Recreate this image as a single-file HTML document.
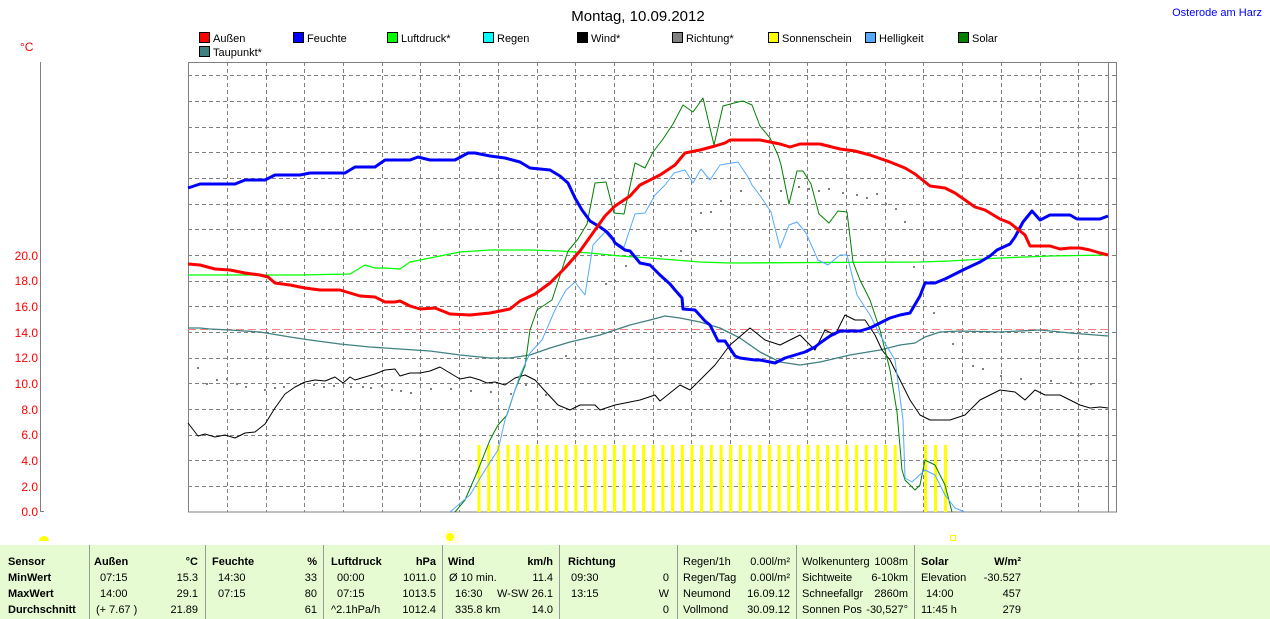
<!DOCTYPE html>
<html><head><meta charset="utf-8"><style>
body{margin:0;width:1270px;height:619px;background:#fff;overflow:hidden;font-family:"Liberation Sans",sans-serif;}
svg{position:absolute;left:0;top:0}
.t{position:absolute;background:#e6fbd2;left:0;top:545px;width:1270px;height:74px}
.c{position:absolute;font-size:11px;white-space:nowrap;color:#000}
.b{font-weight:bold}
.sep{position:absolute;top:0;width:1px;height:74px;background:#999}
</style></head><body>
<svg width="1270" height="545" font-family="Liberation Sans, sans-serif">
<text x="638" y="21" font-size="15" text-anchor="middle">Montag, 10.09.2012</text>
<text x="1262" y="16" font-size="11" fill="#0000ff" text-anchor="end">Osterode am Harz</text>
<text x="20" y="51" font-size="12" fill="#ff0000">°C</text>
<g font-size="11">
<rect x="199.5" y="32.5" width="10" height="10" fill="#ff0000" stroke="#000"/><text x="213" y="42">Außen</text>
<rect x="293.5" y="32.5" width="10" height="10" fill="#0000ff" stroke="#000"/><text x="307" y="42">Feuchte</text>
<rect x="387.5" y="32.5" width="10" height="10" fill="#00ff00" stroke="#000"/><text x="401" y="42">Luftdruck*</text>
<rect x="483.5" y="32.5" width="10" height="10" fill="#00ffff" stroke="#000"/><text x="497" y="42">Regen</text>
<rect x="577.5" y="32.5" width="10" height="10" fill="#000" stroke="#000"/><text x="591" y="42">Wind*</text>
<rect x="672.5" y="32.5" width="10" height="10" fill="#808080" stroke="#000"/><text x="686" y="42">Richtung*</text>
<rect x="768.5" y="32.5" width="10" height="10" fill="#ffff00" stroke="#000"/><text x="782" y="42">Sonnenschein</text>
<rect x="865.5" y="32.5" width="10" height="10" fill="#55aaff" stroke="#000"/><text x="879" y="42">Helligkeit</text>
<rect x="958.5" y="32.5" width="10" height="10" fill="#008000" stroke="#000"/><text x="972" y="42">Solar</text>
<rect x="199.5" y="46.5" width="10" height="10" fill="#408080" stroke="#000"/><text x="213" y="56">Taupunkt*</text>
</g>
<line x1="40.5" y1="62" x2="40.5" y2="512" stroke="#808080"/>
<line x1="40" y1="511.5" x2="44" y2="511.5" stroke="#808080"/>
<g font-size="12" fill="#ff0000" text-anchor="end">
<text x="38" y="260">20.0</text><text x="38" y="285">18.0</text><text x="38" y="311">16.0</text><text x="38" y="337">14.0</text><text x="38" y="362">12.0</text><text x="38" y="388">10.0</text><text x="38" y="414">8.0</text><text x="38" y="439">6.0</text><text x="38" y="465">4.0</text><text x="38" y="491">2.0</text><text x="38" y="516">0.0</text>
</g>
<g stroke="#808080" stroke-dasharray="4 3" stroke-width="1">
<path d="M188 75.5H1117M188 101.5H1117M188 127.5H1117M188 152.5H1117M188 178.5H1117M188 204.5H1117M188 229.5H1117M188 255.5H1117M188 281.5H1117M188 306.5H1117M188 332.5H1117M188 358.5H1117M188 383.5H1117M188 409.5H1117M188 435.5H1117M188 460.5H1117M188 486.5H1117"/>
<path d="M227.5 62V512M266.5 62V512M304.5 62V512M343.5 62V512M382.5 62V512M420.5 62V512M459.5 62V512M498.5 62V512M537.5 62V512M575.5 62V512M614.5 62V512M653.5 62V512M691.5 62V512M730.5 62V512M769.5 62V512M807.5 62V512M846.5 62V512M885.5 62V512M923.5 62V512M962.5 62V512M1001.5 62V512M1040.5 62V512M1078.5 62V512"/>
</g>
<rect x="188.5" y="62.5" width="928" height="449.5" fill="none" stroke="#808080"/>
<line x1="1108.5" y1="62" x2="1108.5" y2="512" stroke="#808080"/>
<line x1="188" y1="329.5" x2="1108" y2="329.5" stroke="#ff8080" stroke-dasharray="8 4"/>
<g fill="#ffff00" id="bars"></g>
<g fill="#808080">
<rect x="197" y="367" width="2" height="2"/><rect x="206" y="383" width="2" height="2"/><rect x="216" y="379" width="2" height="2"/><rect x="226" y="378" width="2" height="2"/><rect x="236" y="383" width="2" height="2"/><rect x="245" y="386" width="2" height="2"/><rect x="264" y="389" width="2" height="2"/><rect x="274" y="387" width="2" height="2"/><rect x="283" y="386" width="2" height="2"/><rect x="303" y="382" width="2" height="2"/><rect x="313" y="384" width="2" height="2"/><rect x="323" y="386" width="2" height="2"/><rect x="333" y="385" width="2" height="2"/><rect x="350" y="386" width="2" height="2"/><rect x="362" y="386" width="2" height="2"/><rect x="370" y="387" width="2" height="2"/><rect x="381" y="385" width="2" height="2"/><rect x="391" y="389" width="2" height="2"/><rect x="400" y="390" width="2" height="2"/><rect x="410" y="392" width="2" height="2"/><rect x="430" y="388" width="2" height="2"/><rect x="450" y="388" width="2" height="2"/><rect x="470" y="390" width="2" height="2"/><rect x="490" y="391" width="2" height="2"/><rect x="510" y="393" width="2" height="2"/><rect x="525" y="384" width="2" height="2"/><rect x="545" y="394" width="2" height="2"/><rect x="565" y="355" width="2" height="2"/><rect x="585" y="330" width="2" height="2"/><rect x="605" y="283" width="2" height="2"/><rect x="614" y="280" width="2" height="2"/><rect x="625" y="265" width="2" height="2"/><rect x="640" y="262" width="2" height="2"/><rect x="660" y="255" width="2" height="2"/><rect x="680" y="250" width="2" height="2"/><rect x="695" y="230" width="2" height="2"/><rect x="700" y="212" width="2" height="2"/><rect x="710" y="211" width="2" height="2"/><rect x="720" y="200" width="2" height="2"/><rect x="740" y="190" width="2" height="2"/><rect x="760" y="190" width="2" height="2"/><rect x="780" y="190" width="2" height="2"/><rect x="798" y="186" width="2" height="2"/><rect x="808" y="188" width="2" height="2"/><rect x="818" y="190" width="2" height="2"/><rect x="828" y="188" width="2" height="2"/><rect x="842" y="192" width="2" height="2"/><rect x="856" y="194" width="2" height="2"/><rect x="866" y="197" width="2" height="2"/><rect x="876" y="193" width="2" height="2"/><rect x="885" y="203" width="2" height="2"/><rect x="895" y="208" width="2" height="2"/><rect x="904" y="221" width="2" height="2"/><rect x="913" y="266" width="2" height="2"/><rect x="933" y="312" width="2" height="2"/><rect x="952" y="343" width="2" height="2"/><rect x="972" y="365" width="2" height="2"/><rect x="982" y="368" width="2" height="2"/><rect x="1000" y="375" width="2" height="2"/><rect x="1020" y="378" width="2" height="2"/><rect x="1050" y="380" width="2" height="2"/><rect x="1070" y="382" width="2" height="2"/><rect x="1090" y="383" width="2" height="2"/>
</g>
<g fill="none" stroke-linejoin="round">
<polyline stroke="#00ff00" stroke-width="1.3" points="188,275 300,275 350,274 355,271 365,265 375,268 385,268 400,269 410,262 420,260 440,256 460,252 490,250 530,250 560,251 590,253 620,256 650,258 700,262 730,263 920,262 950,261 1000,258 1050,256 1108,255"/>
<polyline stroke="#408080" stroke-width="1.3" points="188,328 200,328 210,329 230,330 260,332 290,337 310,340 340,344 370,347 400,349 430,351 460,355 490,358 510,358 530,355 550,348 570,342 600,335 630,325 650,320 665,316 680,318 700,322 720,328 740,338 760,352 780,362 800,365 820,362 850,355 880,350 900,345 915,343 925,337 940,332 960,331 1000,332 1040,330 1070,333 1108,336"/>
<polyline stroke="#000" stroke-width="1" points="188,423 198,436 205,434 215,437 225,435 235,438 245,433 255,432 265,424 275,408 285,394 295,387 305,382 315,380 325,381 335,377 343,383 350,377 355,380 365,377 375,374 385,370 395,369 400,376 410,373 420,373 430,371 440,367 450,373 460,379 470,377 480,380 487,383 495,382 505,385 515,378 525,375 535,380 545,391 558,405 570,410 580,405 595,405 600,410 615,405 630,402 640,400 655,395 660,401 670,393 680,385 690,390 700,380 715,365 730,345 750,328 765,340 780,345 790,340 800,335 810,345 815,350 825,330 835,335 845,315 855,320 865,320 875,335 882,350 890,360 900,380 910,400 920,415 930,420 950,420 965,415 980,400 990,395 1000,390 1015,392 1025,400 1035,390 1045,395 1060,395 1070,400 1080,405 1090,408 1100,407 1108,408"/>
<polyline stroke="#008000" stroke-width="1" points="455,512 465,500 478,470 490,440 498,425 507,415 515,390 525,366 530,330 537,310 552,300 568,251 578,239 587,224 595,183 606,182 614,213 624,214 635,163 645,168 653,152 663,139 673,124 683,105 693,112 703,98 714,145 723,106 738,102 743,101 752,105 760,126 770,138 778,155 781,165 789,204 797,171 803,171 811,184 819,214 829,223 838,211 847,212 853,262 860,280 870,300 880,330 890,370 897,412 902,470 905,480 915,490 920,485 925,460 935,465 945,485 952,512"/>
<polyline stroke="#55aaff" stroke-width="1" points="450,512 470,495 485,470 498,450 505,420 520,375 530,353 542,340 555,310 566,290 575,282 585,295 593,245 605,232 612,240 624,247 635,214 645,213 655,195 665,185 674,173 685,170 693,183 701,169 710,180 720,165 732,163 738,162 748,177 752,185 761,197 771,212 780,248 789,225 797,222 806,233 818,260 828,265 840,255 847,255 857,295 870,315 880,335 895,360 903,420 905,478 912,482 925,470 935,475 945,495 955,508 965,512"/>
<polyline stroke="#0000ff" stroke-width="3" points="188,188 200,184 235,184 245,180 265,180 275,175 300,175 310,173 345,173 355,167 375,167 385,160 410,160 418,157 430,160 455,160 468,153 475,153 490,156 505,158 520,162 530,168 550,170 560,176 568,183 575,198 582,210 590,221 600,227 607,232 613,239 615,243 625,250 630,251 640,263 650,265 660,275 670,284 675,290 682,298 683,309 695,310 705,321 710,325 718,341 725,341 735,356 740,358 755,360 760,360 775,363 785,358 795,355 805,352 815,347 820,343 830,336 840,331 860,331 870,328 880,323 890,318 900,315 910,313 920,296 925,283 935,283 945,279 955,274 965,269 980,262 990,256 997,250 1010,244 1015,237 1023,222 1032,211 1040,220 1050,215 1070,215 1077,219 1100,219 1108,216"/>
<polyline stroke="#ff0000" stroke-width="3" points="188,264 200,265 215,269 230,270 245,273 260,275 268,277 275,283 290,285 305,288 320,290 340,290 350,293 360,296 375,297 385,302 395,302 400,301 410,306 420,309 435,308 450,314 470,315 490,313 510,309 520,301 535,294 550,283 565,268 580,251 595,230 605,216 615,206 630,196 640,185 660,175 675,165 685,153 700,150 715,146 725,143 730,140 760,140 770,142 780,144 790,147 800,144 820,144 840,149 855,151 870,155 890,162 905,168 915,174 925,182 930,186 945,188 955,193 965,200 975,207 985,210 1000,219 1010,223 1015,227 1025,235 1030,246 1050,246 1060,249 1070,248 1080,248 1090,250 1100,253 1108,255"/>
</g>
<path d="M39 541a5 5 0 0 1 10 0z" fill="#ffff00"/>
<circle cx="450" cy="537" r="4" fill="#ffff00"/><circle cx="450" cy="537" r="6" fill="none" stroke="#ffff66" stroke-dasharray="1.5 1.5"/>
<rect x="950.5" y="535.5" width="5" height="5" fill="none" stroke="#ffff00"/>
</svg>
<div class="t">
<div class="sep" style="left:89px"></div><div class="sep" style="left:205px"></div><div class="sep" style="left:323px"></div><div class="sep" style="left:442px"></div><div class="sep" style="left:559px"></div><div class="sep" style="left:677px"></div><div class="sep" style="left:796px"></div><div class="sep" style="left:914px"></div>
</div>
<div id="cells"></div>
<script>
var rows=[563,579,595,611];
var cells=[
[8,0,'Sensor','l',1],[8,1,'MinWert','l',1],[8,2,'MaxWert','l',1],[8,3,'Durchschnitt','l',1],
[94,0,'Außen','l',1],[198,0,'°C','r',1],[100,1,'07:15','l'],[198,1,'15.3','r'],[100,2,'14:00','l'],[198,2,'29.1','r'],[96,3,'(+ 7.67 )','l'],[198,3,'21.89','r'],
[212,0,'Feuchte','l',1],[317,0,'%','r',1],[218,1,'14:30','l'],[317,1,'33','r'],[218,2,'07:15','l'],[317,2,'80','r'],[317,3,'61','r'],
[331,0,'Luftdruck','l',1],[436,0,'hPa','r',1],[337,1,'00:00','l'],[436,1,'1011.0','r'],[337,2,'07:15','l'],[436,2,'1013.5','r'],[331,3,'^2.1hPa/h','l'],[436,3,'1012.4','r'],
[448,0,'Wind','l',1],[553,0,'km/h','r',1],[449,1,'Ø 10 min.','l'],[553,1,'11.4','r'],[455,2,'16:30','l'],[553,2,'W-SW 26.1','r'],[455,3,'335.8 km','l'],[553,3,'14.0','r'],
[568,0,'Richtung','l',1],[571,1,'09:30','l'],[571,2,'13:15','l'],[669,1,'0','r'],[669,2,'W','r'],[669,3,'0','r'],
[683,0,'Regen/1h','l'],[790,0,'0.00l/m²','r'],[683,1,'Regen/Tag','l'],[790,1,'0.00l/m²','r'],[683,2,'Neumond','l'],[790,2,'16.09.12','r'],[683,3,'Vollmond','l'],[790,3,'30.09.12','r'],
[802,0,'Wolkenunterg','l'],[908,0,'1008m','r'],[802,1,'Sichtweite','l'],[908,1,'6-10km','r'],[802,2,'Schneefallgr','l'],[908,2,'2860m','r'],[802,3,'Sonnen Pos','l'],[908,3,'-30,527°','r'],
[921,0,'Solar','l',1],[1021,0,'W/m²','r',1],[921,1,'Elevation','l'],[1021,1,'-30.527','r'],[926,2,'14:00','l'],[1021,2,'457','r'],[921,3,'11:45 h','l'],[1021,3,'279','r']];
var h='';
cells.forEach(function(c){var y=rows[c[1]]-7;var st=c[3]=='l'?'left:'+c[0]+'px':'right:'+(1270-c[0])+'px';h+='<div class="c'+(c[4]?' b':'')+'" style="top:'+y+'px;'+st+'">'+c[2]+'</div>';});
document.getElementById('cells').innerHTML=h;
var b='';for(var i=0;i<44;i++){b+='<rect x="'+(477.5+i*9.68).toFixed(1)+'" y="445" width="3" height="67"/>';}
[924,934,944].forEach(function(x){b+='<rect x="'+x+'" y="445" width="3" height="67"/>';});
document.getElementById('bars').innerHTML=b;
</script>
</body></html>
